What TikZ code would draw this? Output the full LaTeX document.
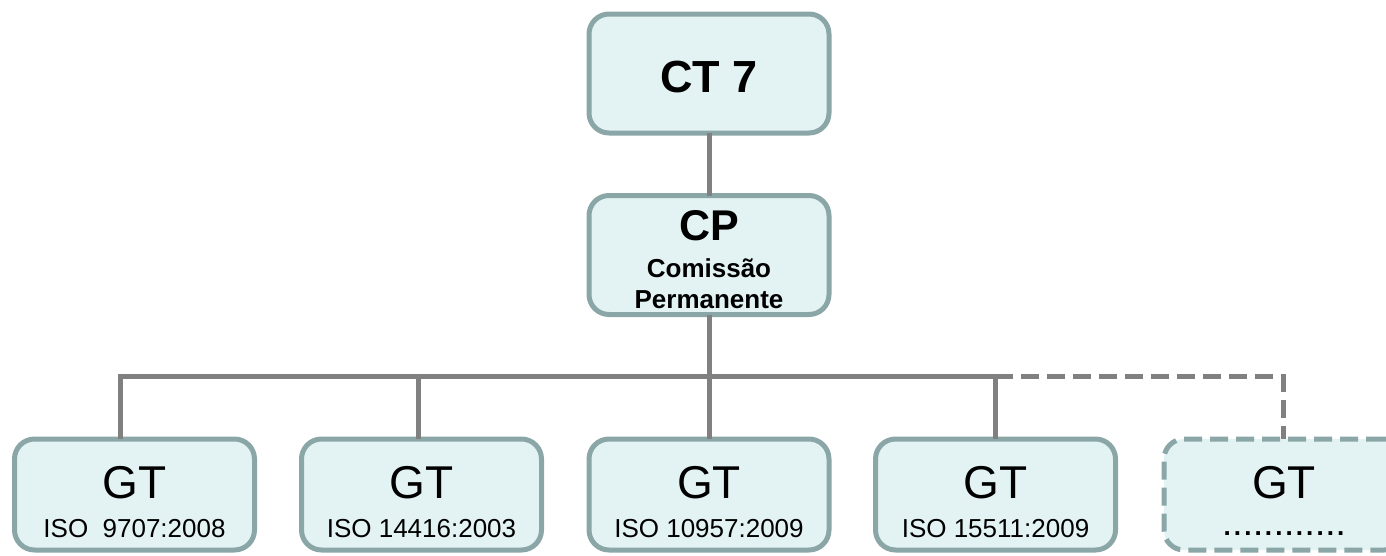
\documentclass[tikz,border=0pt]{standalone}
\usepackage{fontspec}
\setmainfont{Liberation Sans}
\definecolor{boxborder}{HTML}{8BA6A7}
\definecolor{boxfill}{HTML}{E3F3F3}
\definecolor{linegray}{HTML}{808080}
\newcommand{\spaceddots}{.\kern3.1pt.\kern3.1pt.\kern3.1pt.\kern3.1pt.\kern3.1pt.\kern3.1pt.\kern3.1pt.\kern3.1pt.\kern3.1pt.\kern3.1pt.\kern3.1pt.}
\tikzset{
  orgbox/.style={draw=boxborder, fill=boxfill, line width=5pt, rounded corners=20pt,
    minimum width=240pt, inner sep=0pt, outer sep=0pt},
  topbox/.style={orgbox, minimum height=119pt},
  gtbox/.style={orgbox, minimum height=111pt},
  dashbox/.style={gtbox, dash pattern=on 18pt off 8pt},
  conn/.style={draw=linegray, line width=5pt},
  dconn/.style={conn, dash pattern=on 18pt off 8pt},
  txt/.style={inner sep=0pt, anchor=base},
}
\begin{document}
\begin{tikzpicture}[x=1pt,y=-1pt]
\useasboundingbox (0,0) rectangle (1386,555);
\clip (0,0) rectangle (1386,555);
% boxes
\node[topbox] (ct) at (709,73.5) {};
\node[topbox] (cp) at (709,255) {};
\node[gtbox] (g1) at (134.5,494.5) {};
\node[gtbox] (g2) at (421.5,494.5) {};
\node[gtbox] (g3) at (709,494.5) {};
\node[gtbox] (g4) at (995.5,494.5) {};
\node[dashbox] (g5) at (1284,494.5) {};
% texts
\node[txt, font=\bfseries\fontsize{45}{45}\selectfont] (tct) at (709,92) {CT 7};
\node[txt, font=\bfseries\fontsize{43}{43}\selectfont] (tcp) at (709,240) {CP};
\node[txt, font=\bfseries\fontsize{26}{26}\selectfont] (tcom) at (709,277) {Comissão};
\node[txt, font=\bfseries\fontsize{26}{26}\selectfont] (tper) at (709,308) {Permanente};
\foreach \n/\x/\s in {g1/134.5/{ISO\ \ 9707:2008}, g2/421.5/{ISO 14416:2003}, g3/709/{ISO 10957:2009}, g4/995.5/{ISO 15511:2009}}{
  \node[txt, font=\fontsize{46}{46}\selectfont] (t\n) at (\x,498) {GT};
  \node[txt, font=\fontsize{26}{26}\selectfont] (s\n) at (\x,537) {\s};
}
\node[txt, font=\fontsize{46}{46}\selectfont] (tg5) at (1284,498) {GT};
\node[txt, font=\bfseries\fontsize{26}{26}\selectfont] (sg5) at (1284,535) {\spaceddots};
% connectors
\coordinate (b1) at (120,376);
\coordinate (b2) at (418,376);
\coordinate (b3) at (709,376);
\coordinate (b4) at (995,376);
\coordinate (b5) at (1283,376);
\draw[conn] (ct.south) -- (cp.north);
\draw[conn] (cp.south) -- (g3.north);
\draw[conn] (b1 |- g1.north) -- (b1) -- (b4);
\draw[conn] (b2) -- (b2 |- g2.north);
\draw[conn] (b4) -- (b4 |- g4.north);
\draw[dconn] (b4) -- (b5) -- (b5 |- g5.north);
\end{tikzpicture}
\end{document}
